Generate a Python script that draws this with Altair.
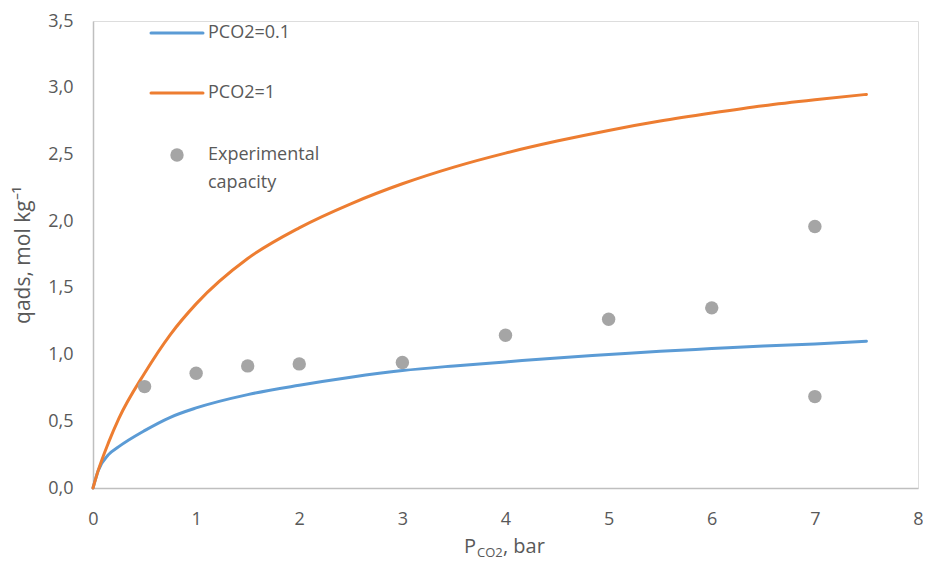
import altair as alt
import pandas as pd

# ---- data ----
x_curve = [0, 0.05, 0.15, 0.25, 0.5, 0.75, 1, 1.5, 2, 2.5, 3, 3.5, 4, 4.5, 5, 5.5, 6, 6.5, 7, 7.5]
q_pco2_01 = [0, 0.13, 0.25, 0.31, 0.43, 0.53, 0.60, 0.70, 0.77, 0.83, 0.88, 0.915, 0.945, 0.975, 1.0, 1.025, 1.045, 1.065, 1.08, 1.10]
q_pco2_1 = [0, 0.13, 0.34, 0.52, 0.86, 1.15, 1.38, 1.72, 1.95, 2.13, 2.28, 2.405, 2.51, 2.60, 2.68, 2.75, 2.81, 2.865, 2.91, 2.95]

x_exp = [0.5, 1, 1.5, 2, 3, 4, 5, 6, 7, 7]
q_exp = [0.76, 0.86, 0.915, 0.93, 0.94, 1.145, 1.265, 1.35, 1.96, 0.685]

series_names = ["PCO2=0.1", "PCO2=1"]
series_colors = ["#5b9bd5", "#ed7d31"]
exp_name = ["Experimental", "capacity"]
exp_color = "#a5a5a5"

FONT = "Open Sans"
TXT = "#595959"
W, H = 825, 467

rows = []
for xv, a, b in zip(x_curve, q_pco2_01, q_pco2_1):
    rows.append({"x": xv, "q": a, "s": series_names[0]})
    rows.append({"x": xv, "q": b, "s": series_names[1]})
df_curves = pd.DataFrame(rows)
df_exp = pd.DataFrame({"x": x_exp, "q": q_exp})

xscale = alt.Scale(domain=[0, 8], nice=False)
yscale = alt.Scale(domain=[0, 3.5], nice=False)

lines = alt.Chart(df_curves).mark_line(strokeWidth=3, strokeCap="round", interpolate="monotone").encode(
    x=alt.X("x:Q", scale=xscale,
            axis=alt.Axis(values=list(range(0, 9)), format="d", grid=False, ticks=False,
                          labelFlush=False, labelOverlap=False,
                          domainColor="#bfbfbf", domainWidth=1.5,
                          labelColor=TXT, labelFont=FONT, labelFontSize=18,
                          labelPadding=22, title=None)),
    y=alt.Y("q:Q", scale=yscale,
            axis=alt.Axis(values=[0, 0.5, 1, 1.5, 2, 2.5, 3, 3.5], grid=False, ticks=False,
                          labelFlush=False, labelOverlap=False,
                          domainColor="#bfbfbf", domainWidth=1.5,
                          labelColor=TXT, labelFont=FONT, labelFontSize=18,
                          labelPadding=20,
                          labelExpr="replace(format(datum.value, '.1f'), '.', ',')",
                          title="qads, mol kg⁻¹", titleFont=FONT, titleFontSize=21,
                          titleFontWeight="normal", titleColor=TXT, titlePadding=14)),
    color=alt.Color("s:N", scale=alt.Scale(domain=series_names, range=series_colors), legend=None),
    detail="s:N",
)

points = alt.Chart(df_exp).mark_circle(size=180, opacity=1, color=exp_color).encode(
    x=alt.X("x:Q", scale=xscale),
    y=alt.Y("q:Q", scale=yscale),
)

# ---- manual legend (inside plot, top-left) ----
leg_lines = pd.DataFrame({"s": series_names, "c": series_colors, "yy": [12, 72]})
legend_rules = alt.Chart(leg_lines).mark_rule(strokeWidth=3, strokeCap="round").encode(
    x=alt.value(58), x2=alt.value(110), y=alt.Y("yy:Q", scale=None),
    color=alt.Color("c:N", scale=None),
)
legend_texts = alt.Chart(leg_lines).mark_text(align="left", baseline="middle", font=FONT,
                                               fontSize=18, color=TXT).encode(
    x=alt.value(115), y=alt.Y("yy:Q", scale=None), text="s:N")
legend_dot = alt.Chart(pd.DataFrame({"a": [0]})).mark_circle(size=180, opacity=1, color=exp_color).encode(
    x=alt.value(84), y=alt.value(134))
legend_exp = alt.Chart(pd.DataFrame({"t": exp_name, "yy": [134, 162]})).mark_text(
    align="left", baseline="middle", font=FONT, fontSize=18, color=TXT).encode(
    x=alt.value(115), y=alt.Y("yy:Q", scale=None), text="t:N")

# ---- x-axis title with subscript ----
xt_main = alt.Chart(pd.DataFrame({"t": ["P"]})).mark_text(
    align="right", baseline="alphabetic", font=FONT, fontSize=20, color=TXT).encode(
    x=alt.value(383), y=alt.value(H + 65), text="t:N")
xt_sub = alt.Chart(pd.DataFrame({"t": ["CO2"]})).mark_text(
    align="left", baseline="alphabetic", font=FONT, fontSize=13, color=TXT).encode(
    x=alt.value(384), y=alt.value(H + 69), text="t:N")
xt_rest = alt.Chart(pd.DataFrame({"t": [", bar"]})).mark_text(
    align="left", baseline="alphabetic", font=FONT, fontSize=20, color=TXT).encode(
    x=alt.value(410), y=alt.value(H + 65), text="t:N")

chart = alt.layer(
    lines, points, legend_rules, legend_texts, legend_dot, legend_exp,
    xt_main, xt_sub, xt_rest
).properties(
    width=W, height=H,
    autosize=alt.AutoSizeParams(type="none"),
    padding={"left": 85, "top": 13, "right": 5, "bottom": 73},
).configure_view(stroke=None).configure(background="white")

chart.save("out.html", embed_options={"renderer": "svg", "actions": False})
